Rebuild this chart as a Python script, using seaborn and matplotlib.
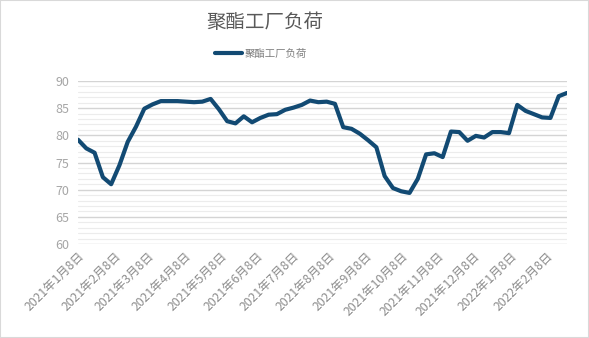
import matplotlib
matplotlib.use("Agg")
import matplotlib.pyplot as plt
from matplotlib.ticker import MultipleLocator
from matplotlib.patches import Rectangle
from matplotlib.lines import Line2D
import seaborn as sns
import pandas as pd

# ---- data ----
title = "聚酯工厂负荷"
series_name = "聚酯工厂负荷"
start_date = "2021-01-08"
n_weeks = 60
load_values = [
    79.2, 77.6, 76.8, 72.3, 71.0, 74.5, 78.8, 81.6, 84.9, 85.7,
    86.3, 86.3, 86.3, 86.2, 86.1, 86.2, 86.7, 84.8, 82.6, 82.2,
    83.5, 82.4, 83.2, 83.8, 83.9, 84.7, 85.1, 85.6, 86.4, 86.1,
    86.2, 85.8, 81.5, 81.2, 80.3, 79.1, 77.8, 72.5, 70.3, 69.7,
    69.4, 72.0, 76.5, 76.7, 76.0, 80.7, 80.6, 79.0, 79.9, 79.6,
    80.6, 80.6, 80.4, 85.6, 84.5, 83.9, 83.3, 83.2, 87.2, 87.8,
]
tick_dates = pd.date_range("2021-01-01", "2022-02-01", freq="MS") + pd.Timedelta(days=7)
tick_labels = [f"{d.year}年{d.month}月8日" for d in tick_dates]
y_ticks = [60, 65, 70, 75, 80, 85, 90]

dates = pd.date_range(start_date, periods=n_weeks, freq="7D")
df = pd.DataFrame({"date": dates, "value": load_values, "series": series_name})

# ---- style ----
sns.set_theme(style="white")
plt.rcParams["font.family"] = ["Noto Sans CJK SC", "DejaVu Sans"]

fig = plt.figure(figsize=(5.89, 3.38), dpi=100)
ax = fig.add_axes([78 / 589, 1 - 244 / 338, (567 - 78) / 589, (244 - 81) / 338])

line_color = "#124a73"
sns.lineplot(data=df, x="date", y="value", hue="series", palette=[line_color],
             linewidth=3.0, ax=ax, legend=False, solid_joinstyle="round",
             solid_capstyle="round")

ax.set_xlim(dates[0], dates[-1])
ax.set_ylim(60, 90)
ax.set_yticks(y_ticks)
ax.yaxis.set_minor_locator(MultipleLocator(1))
ax.grid(which="major", axis="y", color="#d4d4d4", linewidth=1.0)
ax.grid(which="minor", axis="y", color="#ececec", linewidth=0.8)
ax.grid(which="major", axis="x", visible=False)
ax.set_axisbelow(True)
for s in ax.spines.values():
    s.set_visible(False)

ax.set_xticks(tick_dates)
ax.set_xticklabels(tick_labels, rotation=45, ha="right", rotation_mode="anchor",
                   fontsize=8.8, color="#8c8c8c")
ax.tick_params(axis="x", length=0, pad=4)
ax.tick_params(axis="y", length=0, pad=6, labelsize=9, labelcolor="#a6a6a6")
ax.tick_params(which="minor", length=0)
ax.set_xlabel("")
ax.set_ylabel("")

fig.text(265 / 589, 1 - 22 / 338, title, ha="center", va="center",
         fontsize=14, color="#595959")

handle = Line2D([0], [0], color=line_color, linewidth=3.0, solid_capstyle="round")
fig.legend([handle], [series_name], loc="center", bbox_to_anchor=(261 / 589, 1 - 54 / 338),
           frameon=False, fontsize=7.5, labelcolor="#7f7f7f", handlelength=2.6,
           handletextpad=0.25, borderpad=0)

fig.add_artist(Rectangle((0, 0), 1, 1, transform=fig.transFigure, fill=False,
                         edgecolor="#d9d9d9", linewidth=1.5))

fig.savefig("out.png", dpi=100)
